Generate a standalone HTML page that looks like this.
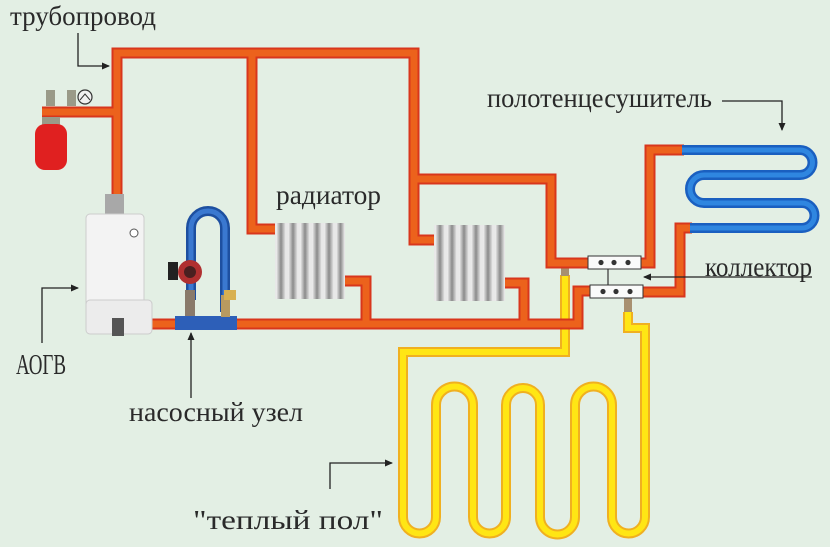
<!DOCTYPE html>
<html><head><meta charset="utf-8"><style>
html,body{margin:0;padding:0;background:#e3efe4;}
svg{display:block}
text{font-family:"Liberation Serif",serif;fill:#2a2a2a;}
</style></head><body>
<svg width="830" height="547" viewBox="0 0 830 547" xmlns="http://www.w3.org/2000/svg">
<defs>
<linearGradient id="rad" x1="0" x2="1" y1="0" y2="0">
<stop offset="0" stop-color="#f4f4f4"/><stop offset="0.5" stop-color="#8a8a8a"/><stop offset="1" stop-color="#f0f0f0"/>
</linearGradient>
<marker id="ar" markerWidth="8" markerHeight="8" refX="7" refY="4" orient="auto" markerUnits="userSpaceOnUse">
<path d="M0,0.5 L8,4 L0,7.5 Z" fill="#222"/></marker>
</defs>
<rect width="830" height="547" fill="#e3efe4"/>

<g fill="none" stroke-linejoin="miter">
<path d="M565,275 V352 H403 V517 A16.5,16.5 0 0 0 436,517 V405 A18.5,18.5 0 0 1 473,405 V517 A16.5,16.5 0 0 0 506,517 V405 A17,17 0 0 1 540,405 V517 A17.5,17.5 0 0 0 575,517 V405 A18.5,18.5 0 0 1 612,405 V517 A16.5,16.5 0 0 0 645,517 V328 H628 V312" stroke="#f0b020" stroke-width="10"/>
<path d="M565,275 V352 H403 V517 A16.5,16.5 0 0 0 436,517 V405 A18.5,18.5 0 0 1 473,405 V517 A16.5,16.5 0 0 0 506,517 V405 A17,17 0 0 1 540,405 V517 A17.5,17.5 0 0 0 575,517 V405 A18.5,18.5 0 0 1 612,405 V517 A16.5,16.5 0 0 0 645,517 V328 H628 V312" stroke="#ffe614" stroke-width="6"/>
</g>
<rect x="561" y="262" width="8" height="14" fill="#a89070"/>
<rect x="624" y="298" width="8" height="14" fill="#a89070"/>

<g fill="none" stroke-linejoin="miter">
<g stroke="#d8361c" stroke-width="11">
<path d="M117,196 V53 H414 V179 H551 V263 H590"/>
<path d="M42,112 H117"/>
<path d="M252,53 V229 H278"/>
<path d="M414,179 V240 H437"/>
<path d="M152,324 H578 V291 H592"/>
<path d="M344,281 H366 V324"/>
<path d="M504,283 H524 V324"/>
<path d="M640,263 H650 V150 H684"/>
<path d="M643,292 H680 V228 H692"/>
</g>
<g stroke="#ec621c" stroke-width="7">
<path d="M117,196 V53 H414 V179 H551 V263 H590"/>
<path d="M42,112 H117"/>
<path d="M252,53 V229 H278"/>
<path d="M414,179 V240 H437"/>
<path d="M152,324 H578 V291 H592"/>
<path d="M344,281 H366 V324"/>
<path d="M504,283 H524 V324"/>
<path d="M640,263 H650 V150 H684"/>
<path d="M643,292 H680 V228 H692"/>
</g>
</g>

<path d="M682,150 H800 A12.5,12.5 0 0 1 800,175 H704 A14,14 0 0 0 704,203 H802 A12.5,12.5 0 0 1 802,228 H690" fill="none" stroke="#1a5fc0" stroke-width="10"/>
<path d="M682,150 H800 A12.5,12.5 0 0 1 800,175 H704 A14,14 0 0 0 704,203 H802 A12.5,12.5 0 0 1 802,228 H690" fill="none" stroke="#2f86e0" stroke-width="5"/>

<line x1="608" y1="268" x2="608" y2="286" stroke="#333" stroke-width="1.2"/>
<rect x="588" y="256" width="53" height="13" fill="#fafafa" stroke="#333" stroke-width="1"/>
<rect x="590" y="285" width="53" height="13" fill="#fafafa" stroke="#333" stroke-width="1"/>
<g fill="#333">
<circle cx="601" cy="262.5" r="2.6"/><circle cx="614" cy="262.5" r="2.6"/><circle cx="628" cy="262.5" r="2.6"/>
<circle cx="603" cy="291.5" r="2.6"/><circle cx="616" cy="291.5" r="2.6"/><circle cx="630" cy="291.5" r="2.6"/>
</g>

<g>
<rect x="275" y="223" width="70" height="76" fill="#e8e8e8"/>
<g fill="url(#rad)">
<rect x="276" y="223" width="10" height="76"/><rect x="288" y="223" width="10" height="76"/><rect x="300" y="223" width="10" height="76"/><rect x="312" y="223" width="10" height="76"/><rect x="324" y="223" width="10" height="76"/><rect x="336" y="223" width="9" height="76"/>
</g>
<rect x="434" y="225" width="71" height="76" fill="#e8e8e8"/>
<g fill="url(#rad)">
<rect x="435" y="225" width="10" height="76"/><rect x="447" y="225" width="10" height="76"/><rect x="459" y="225" width="10" height="76"/><rect x="471" y="225" width="10" height="76"/><rect x="483" y="225" width="10" height="76"/><rect x="495" y="225" width="10" height="76"/>
</g>
</g>

<rect x="46" y="90" width="9" height="16" fill="#9a9a88"/>
<rect x="67" y="90" width="9" height="16" fill="#9a9a88"/>
<circle cx="85" cy="97" r="7" fill="#f0f0f0" stroke="#333" stroke-width="1.2"/>
<path d="M80,100 L85,94 L90,100" fill="none" stroke="#333" stroke-width="1"/>
<rect x="42" y="117" width="18" height="8" fill="#9a9a88"/>
<rect x="35" y="124" width="32" height="46" rx="10" fill="#e02020"/>

<rect x="105" y="194" width="19" height="24" fill="#a8a8a8"/>
<rect x="86" y="214" width="58" height="108" rx="4" fill="#f3f3f3" stroke="#ccc"/>
<rect x="86" y="300" width="66" height="34" rx="4" fill="#ececec" stroke="#ccc"/>
<rect x="112" y="318" width="12" height="18" fill="#555"/>
<circle cx="134" cy="233" r="4" fill="#fff" stroke="#555"/>

<path d="M191,300 V228 A17,17 0 0 1 225,228 V312" fill="none" stroke="#1d4fa0" stroke-width="10"/>
<path d="M191,300 V228 A17,17 0 0 1 225,228 V312" fill="none" stroke="#3a78d0" stroke-width="5"/>
<rect x="175" y="316" width="62" height="14" fill="#2d5fb8"/>
<circle cx="190" cy="272" r="12" fill="#b03030"/>
<circle cx="190" cy="272" r="6" fill="#4a2020"/>
<rect x="168" y="262" width="10" height="18" fill="#222"/>
<rect x="185" y="290" width="10" height="26" fill="#8a7a6a"/>
<rect x="221" y="295" width="9" height="22" fill="#b89a60"/>
<rect x="224" y="290" width="12" height="10" fill="#d8b050"/>

<text x="10" y="25" font-size="27" textLength="146" lengthAdjust="spacingAndGlyphs">трубопровод</text>
<text x="487" y="107" font-size="27" textLength="225" lengthAdjust="spacingAndGlyphs">полотенцесушитель</text>
<text x="276" y="204" font-size="27" textLength="105" lengthAdjust="spacingAndGlyphs">радиатор</text>
<text x="705" y="276" font-size="27" textLength="107" lengthAdjust="spacingAndGlyphs">коллектор</text>
<text x="16" y="374" font-size="28" textLength="50" lengthAdjust="spacingAndGlyphs">АОГВ</text>
<text x="129" y="421" font-size="27" textLength="174" lengthAdjust="spacingAndGlyphs">насосный узел</text>
<text x="193" y="529" font-size="27" textLength="190" lengthAdjust="spacingAndGlyphs">"теплый пол"</text>

<g fill="none" stroke="#222" stroke-width="1.3">
<path d="M78,33 V66 H109" marker-end="url(#ar)"/>
<path d="M722,101 H782 V130" marker-end="url(#ar)"/>
<path d="M812,277 H644" marker-end="url(#ar)"/>
<path d="M42,343 V288 H78" marker-end="url(#ar)"/>
<path d="M191,398 V333" marker-end="url(#ar)"/>
<path d="M330,489 V463 H392" marker-end="url(#ar)"/>
</g>
</svg>
</body></html>
